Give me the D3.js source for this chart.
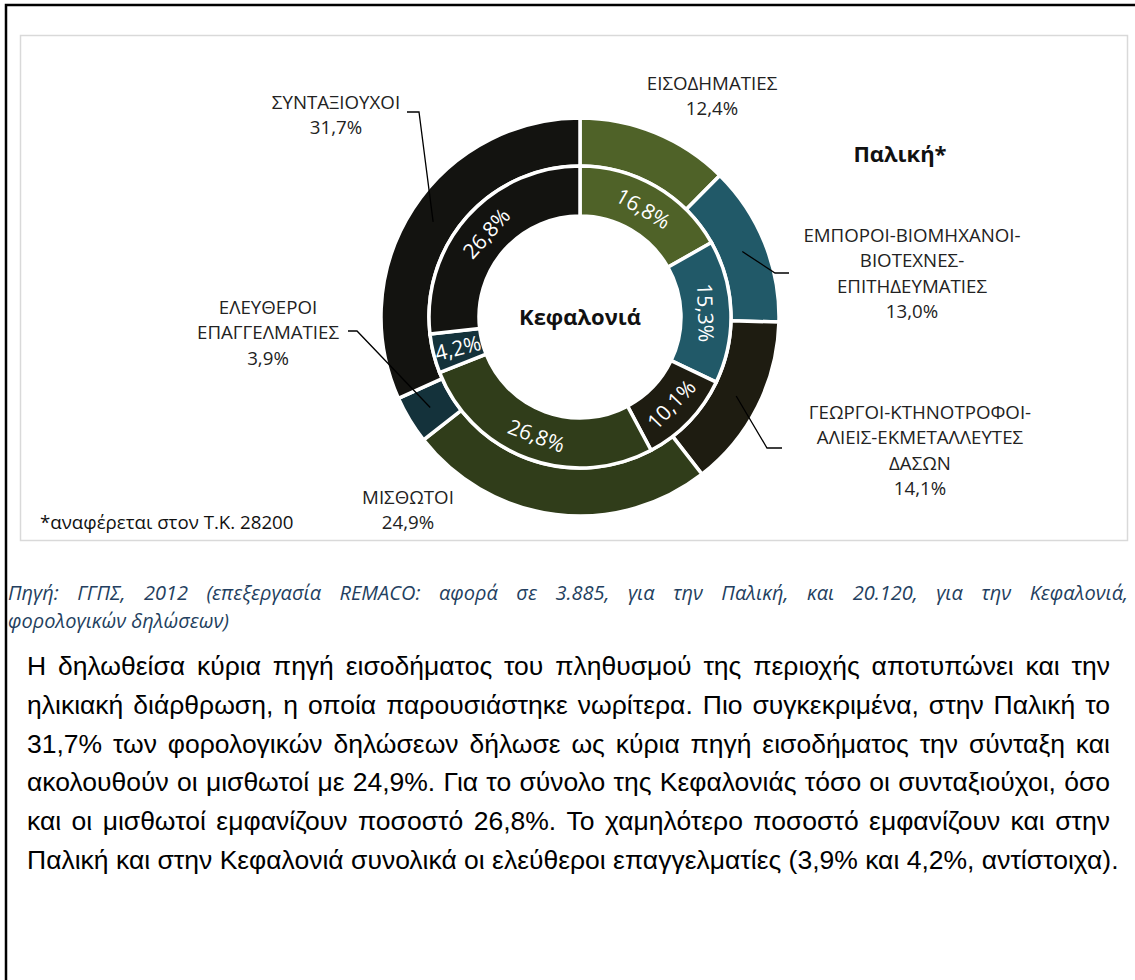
<!DOCTYPE html>
<html>
<head>
<meta charset="utf-8">
<script src="https://cdn.jsdelivr.net/npm/d3@7"></script>
<style>
  body { margin: 0; background: #fff; }
  svg text { font-family: "Open Sans", sans-serif; }
</style>
</head>
<body>
<div id="chart"></div>
<script>
// categories, clockwise from 12 o'clock
const categories = ['ΕΙΣΟΔΗΜΑΤΙΕΣ', 'ΕΜΠΟΡΟΙ-ΒΙΟΜΗΧΑΝΟΙ-ΒΙΟΤΕΧΝΕΣ-ΕΠΙΤΗΔΕΥΜΑΤΙΕΣ',
  'ΓΕΩΡΓΟΙ-ΚΤΗΝΟΤΡΟΦΟΙ-ΑΛΙΕΙΣ-ΕΚΜΕΤΑΛΛΕΥΤΕΣ ΔΑΣΩΝ', 'ΜΙΣΘΩΤΟΙ',
  'ΕΛΕΥΘΕΡΟΙ ΕΠΑΓΓΕΛΜΑΤΙΕΣ', 'ΣΥΝΤΑΞΙΟΥΧΟΙ'];
const categoryLines = [
  ['ΕΙΣΟΔΗΜΑΤΙΕΣ'],
  ['ΕΜΠΟΡΟΙ-ΒΙΟΜΗΧΑΝΟΙ-', 'ΒΙΟΤΕΧΝΕΣ-', 'ΕΠΙΤΗΔΕΥΜΑΤΙΕΣ'],
  ['ΓΕΩΡΓΟΙ-ΚΤΗΝΟΤΡΟΦΟΙ-', 'ΑΛΙΕΙΣ-ΕΚΜΕΤΑΛΛΕΥΤΕΣ', 'ΔΑΣΩΝ'],
  ['ΜΙΣΘΩΤΟΙ'],
  ['ΕΛΕΥΘΕΡΟΙ', 'ΕΠΑΓΓΕΛΜΑΤΙΕΣ'],
  ['ΣΥΝΤΑΞΙΟΥΧΟΙ']
];
const paliki = [12.4, 13.0, 14.1, 24.9, 3.9, 31.7];     // outer ring
const kefalonia = [16.8, 15.3, 10.1, 26.8, 4.2, 26.8];  // inner ring

const sourceLines = [
  'Πηγή: ΓΓΠΣ, 2012 (επεξεργασία REMACO: αφορά σε 3.885, για την Παλική, και 20.120, για την Κεφαλονιά,',
  'φορολογικών δηλώσεων)'
];
const paragraphLines = [
  'Η δηλωθείσα κύρια πηγή εισοδήματος του πληθυσμού της περιοχής αποτυπώνει και την',
  'ηλικιακή διάρθρωση, η οποία παρουσιάστηκε νωρίτερα. Πιο συγκεκριμένα, στην Παλική το',
  '31,7% των φορολογικών δηλώσεων δήλωσε ως κύρια πηγή εισοδήματος την σύνταξη και',
  'ακολουθούν οι μισθωτοί με 24,9%. Για το σύνολο της Κεφαλονιάς τόσο οι συνταξιούχοι, όσο',
  'και οι μισθωτοί εμφανίζουν ποσοστό 26,8%. Το χαμηλότερο ποσοστό εμφανίζουν και στην',
  'Παλική και στην Κεφαλονιά συνολικά οι ελεύθεροι επαγγελματίες (3,9% και 4,2%, αντίστοιχα).'
];

const colors = ['#4f6228', '#215968', '#1e1c11', '#303d1a', '#14323b', '#131310'];

// outer labels: [centre x, first line y, leader start x, elbow x, elbow y] (null = no leader)
const labelLayout = [
  [712, 83, null, null, null],
  [912, 235, 789, 775, 273],
  [920, 412, 782, 767, 448],
  [408, 497, null, null, null],
  [268, 307, 348, 357, 331],
  [336, 102, 407, 419, 112]
];

const W = 1135, H = 980;
const cx = 580, cy = 317;
const rOuter = 199, rMid = 151, rInner = 101;

const locale = d3.formatLocale({ decimal: ',', thousands: '.', grouping: [3], currency: ['', '€'] });
const pct = d => locale.format('.1f')(d) + '%';

const svg = d3.select('#chart').append('svg')
  .attr('width', W)
  .attr('height', H);

// page frame and chart area
svg.append('rect')
  .attr('x', 6).attr('y', 5).attr('width', W + 20).attr('height', H + 20)
  .attr('fill', 'none').attr('stroke', '#000').attr('stroke-width', 2.5);
svg.append('rect')
  .attr('x', 20.5).attr('y', 35.5).attr('width', 1107).attr('height', 505)
  .attr('fill', '#fff').attr('stroke', '#d9d9d9').attr('stroke-width', 1.5);

const pie = d3.pie().sort(null).value(d => d);
const outerArc = d3.arc().innerRadius(rMid).outerRadius(rOuter);
const innerArc = d3.arc().innerRadius(rInner).outerRadius(rMid);
const leaderArc = d3.arc().innerRadius(175).outerRadius(175);

const g = svg.append('g').attr('transform', `translate(${cx},${cy})`);

const outerSlices = pie(paliki);
g.append('g')
  .selectAll('path')
  .data(outerSlices)
  .enter()
  .append('path')
  .attr('d', outerArc)
  .attr('fill', (d, i) => colors[i])
  .attr('stroke', '#fff')
  .attr('stroke-width', 3.5);

const innerSlices = pie(kefalonia);
g.append('g')
  .selectAll('path')
  .data(innerSlices)
  .enter()
  .append('path')
  .attr('d', innerArc)
  .attr('fill', (d, i) => colors[i])
  .attr('stroke', '#fff')
  .attr('stroke-width', 3.5);

// inner ring values, rotated along the ring (radial when the slice is too narrow)
const rLab = (rInner + rMid) / 2;
g.append('g')
  .selectAll('text')
  .data(innerSlices)
  .enter()
  .append('text')
  .attr('text-anchor', 'middle')
  .attr('dominant-baseline', 'central')
  .attr('fill', '#fff')
  .style('font-size', '21px')
  .text(d => pct(d.data))
  .attr('transform', function (d) {
    const a = (d.startAngle + d.endAngle) / 2;
    const x = rLab * Math.sin(a), y = -rLab * Math.cos(a);
    let deg = a * 180 / Math.PI;
    const arcLen = (d.endAngle - d.startAngle) * rLab;
    if (arcLen < this.getComputedTextLength()) {
      deg = deg - 90;
      if (deg > 90) deg -= 180;
    } else if (deg > 90 && deg < 270) {
      deg -= 180;
    }
    if (deg > 180) deg -= 360;
    return `translate(${x},${y}) rotate(${deg})`;
  });

// outer labels with leader lines, one text per line
outerSlices.forEach((d, i) => {
  const [lx, ly, sx, ex, ey] = labelLayout[i];
  const lines = categoryLines[i].concat([pct(d.data)]);
  lines.forEach((s, k) => {
    svg.append('text')
      .attr('x', lx).attr('y', ly + k * 25.3 + 7)
      .attr('text-anchor', 'middle')
      .attr('fill', '#222')
      .style('font-size', '18.7px')
      .text(s);
  });
  if (sx !== null) {
    const c = leaderArc.centroid(d);
    svg.append('path')
      .attr('d', d3.line()([[sx, ey], [ex, ey], [cx + c[0], cy + c[1]]]))
      .attr('fill', 'none')
      .attr('stroke', '#000')
      .attr('stroke-width', 1.3);
  }
});

// titles
svg.append('text')
  .attr('x', cx).attr('y', cy - 1)
  .attr('text-anchor', 'middle').attr('dominant-baseline', 'central')
  .style('font-size', '22px').style('font-weight', 'bold')
  .attr('fill', '#111')
  .text('Κεφαλονιά');
svg.append('text')
  .attr('x', 900).attr('y', 153)
  .attr('text-anchor', 'middle').attr('dominant-baseline', 'central')
  .style('font-size', '22px').style('font-weight', 'bold')
  .attr('fill', '#111')
  .text('Παλική*');

// measure a string in a given style
function naturalWidth(str, style) {
  const t = svg.append('text').text(str);
  style(t);
  const w = t.node().getComputedTextLength();
  t.remove();
  return w;
}

// one line of text set word by word; justified lines spread the words to reach x1
function textLine(str, x0, x1, y, justify, style) {
  const words = str.split(' ');
  const nodes = words.map(w => {
    const t = svg.append('text').attr('y', y).text(w);
    style(t);
    return t;
  });
  const widths = nodes.map(n => n.node().getComputedTextLength());
  let gap;
  if (justify) {
    gap = (x1 - x0 - d3.sum(widths)) / (words.length - 1);
  } else {
    gap = naturalWidth('a a', style) - naturalWidth('aa', style);
  }
  let x = x0;
  nodes.forEach((n, k) => {
    n.attr('x', x);
    x += widths[k] + gap;
  });
}

const noteStyle = t => t
  .style('font-size', '18.7px')
  .attr('fill', '#111');
textLine('*αναφέρεται στον Τ.Κ. 28200', 40, 300, 529, false, noteStyle);

const sourceStyle = t => t
  .style('font-family', '"Open Sans", sans-serif')
  .style('font-style', 'italic')
  .style('font-size', '20px')
  .attr('fill', '#243f60');
sourceLines.forEach((s, k) => {
  textLine(s, 8, 1128, 600 + k * 27.5, k < sourceLines.length - 1, sourceStyle);
});

const paraStyle = t => t
  .style('font-family', '"Liberation Sans", Arial, sans-serif')
  .style('font-size', '26.5px')
  .attr('fill', '#000');
paragraphLines.forEach((s, k) => {
  textLine(s, 27, 1110, 675 + k * 38.8, k < paragraphLines.length - 1, paraStyle);
});
</script>
</body>
</html>
